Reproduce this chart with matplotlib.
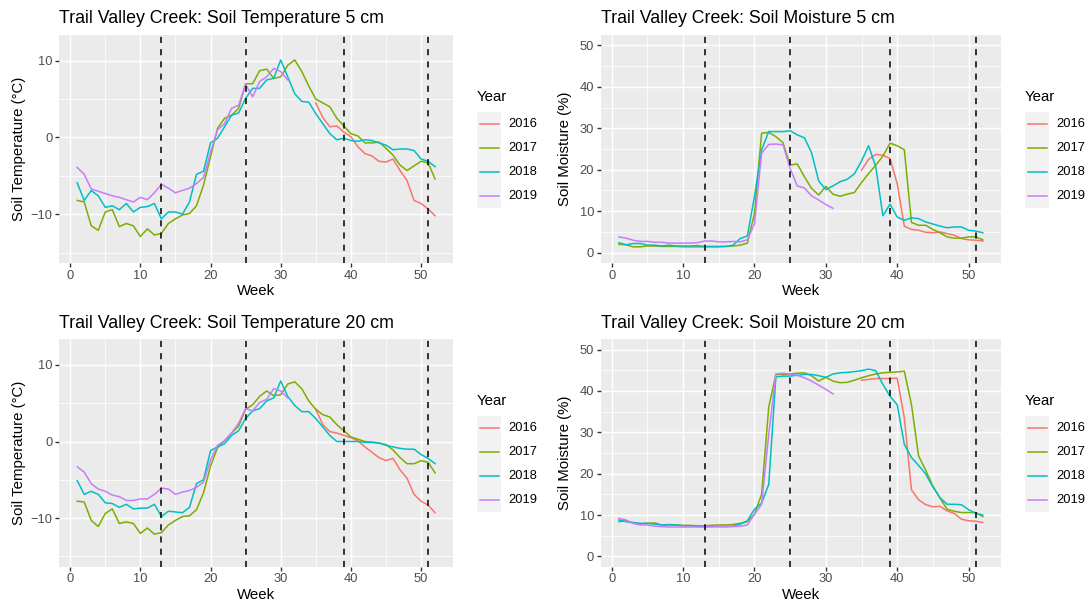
import matplotlib.pyplot as plt
from matplotlib.lines import Line2D
from matplotlib.patches import Rectangle

plt.rcParams['font.family'] = ['Liberation Sans', 'DejaVu Sans']

# weekly means
weeks_all = list(range(1, 53))
weeks_2016 = list(range(35, 53))
weeks_2019 = list(range(1, 32))
years = ["2016", "2017", "2018", "2019"]
year_colors = ["#F8766D", "#7CAE00", "#00BFC4", "#C77CFF"]
season_weeks = [13, 25, 39, 51]

# Soil temperature 5 cm
t5_2016 = [4.5, 2.6, 1.4, 1.5, 0.7, 0.1, -1.2, -2.1, -2.4, -3.1, -3.2, -2.8, -4.3, -5.6, -8.2, -8.6, -9.3, -10.2]
t5_2017 = [-8.2, -8.4, -11.5, -12.1, -9.7, -9.4, -11.6, -11.2, -11.5, -12.9,
           -11.9, -12.7, -12.5, -11.2, -10.6, -10.1, -9.9, -8.9, -6.2, -2.5,
           1.2, 2.5, 2.9, 3.8, 7.0, 7.0, 8.7, 8.9, 7.7, 7.9,
           9.4, 10.1, 8.6, 6.7, 5.0, 4.5, 4.0, 2.5, 1.5, 0.5,
           0.2, -0.7, -0.7, -0.6, -1.4, -2.3, -3.6, -4.3, -3.7, -3.1,
           -3.3, -5.4]
t5_2018 = [-5.9, -8.2, -6.9, -7.6, -9.1, -8.9, -9.4, -8.6, -9.7, -9.1,
           -9.0, -8.6, -10.6, -9.7, -9.7, -10.0, -8.4, -4.8, -4.4, -0.7,
           -0.1, 1.4, 2.9, 3.2, 5.1, 6.4, 6.4, 7.5, 7.7, 10.1,
           7.9, 5.7, 4.7, 4.6, 3.1, 1.8, 0.5, -0.3, -0.1, -0.4,
           -0.5, -0.3, -0.4, -0.7, -1.0, -1.6, -1.5, -1.5, -1.7, -2.8,
           -3.1, -3.8]
t5_2019 = [-3.9, -4.8, -6.7, -7.0, -7.3, -7.6, -7.8, -8.1, -8.4, -7.8,
           -8.1, -7.2, -6.1, -6.6, -7.2, -6.9, -6.6, -6.0, -5.2, -1.9,
           1.0, 1.8, 3.8, 4.2, 6.9, 5.3, 7.3, 7.9, 9.0, 8.6,
           7.5]

# Soil temperature 20 cm
t20_2016 = [4.2, 2.2, 1.3, 1.1, 0.8, 0.5, 0.1, -0.7, -1.4, -2.1, -2.5, -2.2, -3.7, -4.8, -6.9, -7.8, -8.3, -9.3]
t20_2017 = [-7.8, -7.9, -10.3, -11.1, -9.4, -8.8, -10.7, -10.5, -10.7, -12.0,
            -11.3, -12.1, -11.9, -10.9, -10.3, -9.8, -9.7, -8.9, -6.7, -3.2,
            -0.8, 0.1, 1.1, 2.0, 4.2, 4.8, 5.9, 6.6, 6.0, 6.1,
            7.5, 7.8, 6.9, 5.3, 4.2, 3.5, 3.2, 2.2, 1.4, 0.6,
            0.3, 0.0, -0.1, -0.2, -0.4, -1.1, -2.1, -2.9, -2.9, -2.5,
            -2.7, -4.1]
t20_2018 = [-5.1, -6.9, -6.5, -6.9, -8.0, -8.1, -8.6, -8.2, -8.8, -8.7,
            -8.7, -8.2, -9.8, -9.1, -9.2, -9.3, -8.6, -5.5, -5.0, -1.2,
            -0.7, -0.3, 0.8, 1.4, 3.0, 4.0, 4.3, 5.3, 5.7, 7.9,
            5.9, 4.7, 3.9, 3.9, 3.0, 1.9, 0.8, 0.0, 0.0, 0.0,
            0.0, -0.1, -0.1, -0.2, -0.5, -0.7, -0.9, -1.0, -1.0, -1.7,
            -2.2, -2.9]
t20_2019 = [-3.3, -4.0, -5.5, -6.2, -6.5, -7.0, -7.2, -7.7, -7.7, -7.5,
            -7.5, -6.9, -6.1, -6.2, -6.9, -6.6, -6.4, -6.0, -5.3, -2.4,
            -0.5, 0.1, 1.1, 2.4, 4.3, 4.0, 5.1, 5.5, 6.9, 6.6,
            5.7]

# Soil moisture 5 cm
m5_2016 = [19.9, 22.5, 23.7, 23.5, 22.7, 16.7, 6.4, 5.6, 5.4, 4.9, 4.8, 5.0, 4.6, 4.2, 3.4, 3.1, 3.0, 2.8]
m5_2017 = [2.0, 1.9, 1.4, 1.4, 1.6, 1.6, 1.5, 1.5, 1.5, 1.4,
           1.4, 1.4, 1.4, 1.4, 1.4, 1.5, 1.6, 1.8, 2.3, 9.4,
           28.8, 29.0, 28.0, 26.5, 21.1, 21.4, 18.3, 15.5, 13.9, 16.0,
           14.1, 13.6, 14.1, 14.5, 16.9, 19.1, 21.1, 23.3, 26.4, 25.8,
           24.8, 7.3, 6.6, 6.6, 5.6, 4.8, 3.8, 3.5, 3.5, 3.8,
           3.8, 3.1]
m5_2018 = [2.4, 1.9, 2.2, 2.2, 1.8, 1.8, 1.6, 1.8, 1.6, 1.6,
           1.6, 1.7, 1.5, 1.5, 1.5, 1.5, 1.8, 3.4, 4.0, 13.5,
           24.8, 29.2, 29.2, 29.2, 29.4, 28.4, 27.7, 24.1, 17.3, 15.2,
           16.1, 17.1, 17.7, 19.0, 22.1, 25.8, 20.7, 8.9, 11.7, 8.6,
           7.8, 8.4, 8.2, 7.4, 6.9, 6.4, 6.0, 6.2, 6.2, 5.4,
           5.2, 4.8]
m5_2019 = [3.8, 3.5, 3.0, 2.7, 2.7, 2.5, 2.5, 2.3, 2.3, 2.3,
           2.3, 2.4, 2.8, 2.8, 2.6, 2.6, 2.7, 2.6, 3.1, 6.9,
           24.0, 26.1, 26.2, 26.0, 20.3, 16.1, 15.6, 13.7, 12.7, 11.6,
           10.7]

# Soil moisture 20 cm
m20_2016 = [42.6, 42.8, 43.0, 43.0, 43.0, 43.1, 33.5, 16.1, 13.7, 12.5, 12.0, 12.1, 11.0, 10.4, 9.0, 8.6, 8.5, 8.2]
m20_2017 = [8.4, 8.6, 8.0, 7.8, 8.0, 8.1, 7.6, 7.7, 7.6, 7.5,
            7.5, 7.4, 7.4, 7.5, 7.6, 7.6, 7.7, 8.0, 8.4, 10.2,
            15.0, 36.1, 44.0, 44.0, 44.1, 44.3, 44.4, 43.7, 42.4, 43.3,
            42.4, 42.0, 42.1, 42.6, 43.2, 43.7, 44.1, 44.4, 44.5, 44.6,
            44.8, 36.7, 24.3, 20.8, 17.0, 14.1, 11.4, 10.9, 10.6, 10.6,
            10.6, 9.6]
m20_2018 = [8.8, 8.4, 8.2, 8.0, 8.0, 7.8, 7.6, 7.6, 7.6, 7.4,
            7.4, 7.3, 7.2, 7.2, 7.2, 7.2, 7.3, 7.8, 8.6, 11.4,
            12.9, 17.4, 43.4, 43.6, 43.6, 43.8, 44.0, 44.0, 43.7, 43.3,
            44.1, 44.4, 44.5, 44.7, 44.9, 45.3, 44.9, 41.6, 38.7, 36.7,
            27.1, 23.9, 22.0, 19.9, 16.8, 14.2, 12.6, 12.6, 12.5, 11.3,
            10.4, 10.0]
m20_2019 = [9.2, 8.8, 8.0, 7.6, 7.6, 7.3, 7.2, 7.1, 7.1, 7.1,
            7.1, 7.1, 7.1, 7.2, 7.2, 7.2, 7.2, 7.3, 7.6, 10.2,
            12.6, 29.5, 44.1, 44.3, 44.1, 43.8, 43.2, 42.4, 41.4, 40.4,
            39.3]

W, H = 1090, 602
fig = plt.figure(figsize=(W / 100, H / 100), dpi=100)


def px_rect(left, right, top, bottom):
    return [left / W, 1 - bottom / H, (right - left) / W, (bottom - top) / H]


def gg_panel(rect, title, ylabel, series, ylim, yticks, yminor, ylab_x):
    left, right, top, bottom = rect
    ax = fig.add_axes(px_rect(*rect))
    ax.set_facecolor("#EBEBEB")
    for s in ax.spines.values():
        s.set_visible(False)
    for (wk, vals), col in zip(series, year_colors):
        ax.plot(wk, vals, color=col, lw=1.1, solid_joinstyle="round", zorder=3)
    for w in season_weeks:
        ax.axvline(w, color="black", lw=1.1, ls=(0, (4, 4)), zorder=4)
    # ggplot style expansion of 5 %
    x0, x1 = 1, 52
    ax.set_xlim(x0 - 0.05 * (x1 - x0), x1 + 0.05 * (x1 - x0))
    y0, y1 = ylim
    ax.set_ylim(y0 - 0.05 * (y1 - y0), y1 + 0.05 * (y1 - y0))
    ax.set_xticks([0, 10, 20, 30, 40, 50])
    ax.set_xticks([5, 15, 25, 35, 45], minor=True)
    ax.set_yticks(yticks)
    ax.set_yticks(yminor, minor=True)
    ax.grid(which="major", color="white", lw=1.05, zorder=0)
    ax.grid(which="minor", color="white", lw=0.55, zorder=0)
    ax.set_axisbelow(True)
    ax.tick_params(which="major", length=2.7, width=1.0, color="#333333",
                   labelcolor="#4D4D4D", labelsize=9.3, pad=2.1)
    ax.tick_params(which="minor", length=0)
    ax.set_title(title, loc="left", fontsize=12.8, pad=8.4, color="black")
    ax.set_xlabel("Week", fontsize=10.8, va="center")
    ax.xaxis.set_label_coords(0.5, -28 / (bottom - top))
    ax.set_ylabel(ylabel, fontsize=10.8, va="center")
    ax.yaxis.set_label_coords((ylab_x - left) / (right - left), 0.5)
    return ax


def gg_legend(left, top):
    # legend title, grey key boxes and labels in pixel units
    fig.text(left / W, 1 - (top - 15) / H, "Year", fontsize=10.8, va="center", ha="left")
    kw, kh = 24, 24
    for i, (yr, col) in enumerate(zip(years, year_colors)):
        ky = top + i * kh
        fig.add_artist(Rectangle((left / W, 1 - (ky + kh) / H), kw / W, kh / H,
                                 transform=fig.transFigure, facecolor="#F2F2F2",
                                 edgecolor="none"))
        yc = 1 - (ky + kh / 2) / H
        fig.add_artist(Line2D([(left + 2.5) / W, (left + kw - 2.5) / W], [yc, yc],
                              transform=fig.transFigure, color=col, lw=1.1))
        fig.text((left + kw + 7) / W, yc, yr, fontsize=9.3, va="center", ha="left")


temp_ticks = [-10, 0, 10]
temp_minor = [-15, -5, 5]
moist_ticks = [0, 10, 20, 30, 40, 50]
moist_minor = [5, 15, 25, 35, 45]

gg_panel((59.3, 453, 35, 263), "Trail Valley Creek: Soil Temperature 5 cm", "Soil Temperature (°C)",
         [(weeks_2016, t5_2016), (weeks_all, t5_2017), (weeks_all, t5_2018), (weeks_2019, t5_2019)],
         (-15, 12), temp_ticks, temp_minor, 19)
gg_panel((600.7, 1001, 35, 263), "Trail Valley Creek: Soil Moisture 5 cm", "Soil Moisture (%)",
         [(weeks_2016, m5_2016), (weeks_all, m5_2017), (weeks_all, m5_2018), (weeks_2019, m5_2019)],
         (0, 50), moist_ticks, moist_minor, 565)
gg_panel((59.3, 453, 339.3, 566.7), "Trail Valley Creek: Soil Temperature 20 cm", "Soil Temperature (°C)",
         [(weeks_2016, t20_2016), (weeks_all, t20_2017), (weeks_all, t20_2018), (weeks_2019, t20_2019)],
         (-15, 12), temp_ticks, temp_minor, 19)
gg_panel((600.7, 1001, 339.3, 566.7), "Trail Valley Creek: Soil Moisture 20 cm", "Soil Moisture (%)",
         [(weeks_2016, m20_2016), (weeks_all, m20_2017), (weeks_all, m20_2018), (weeks_2019, m20_2019)],
         (0, 50), moist_ticks, moist_minor, 565)

gg_legend(477, 112)
gg_legend(1025, 112)
gg_legend(477, 416)
gg_legend(1025, 416)

fig.savefig("out.png", dpi=100)
